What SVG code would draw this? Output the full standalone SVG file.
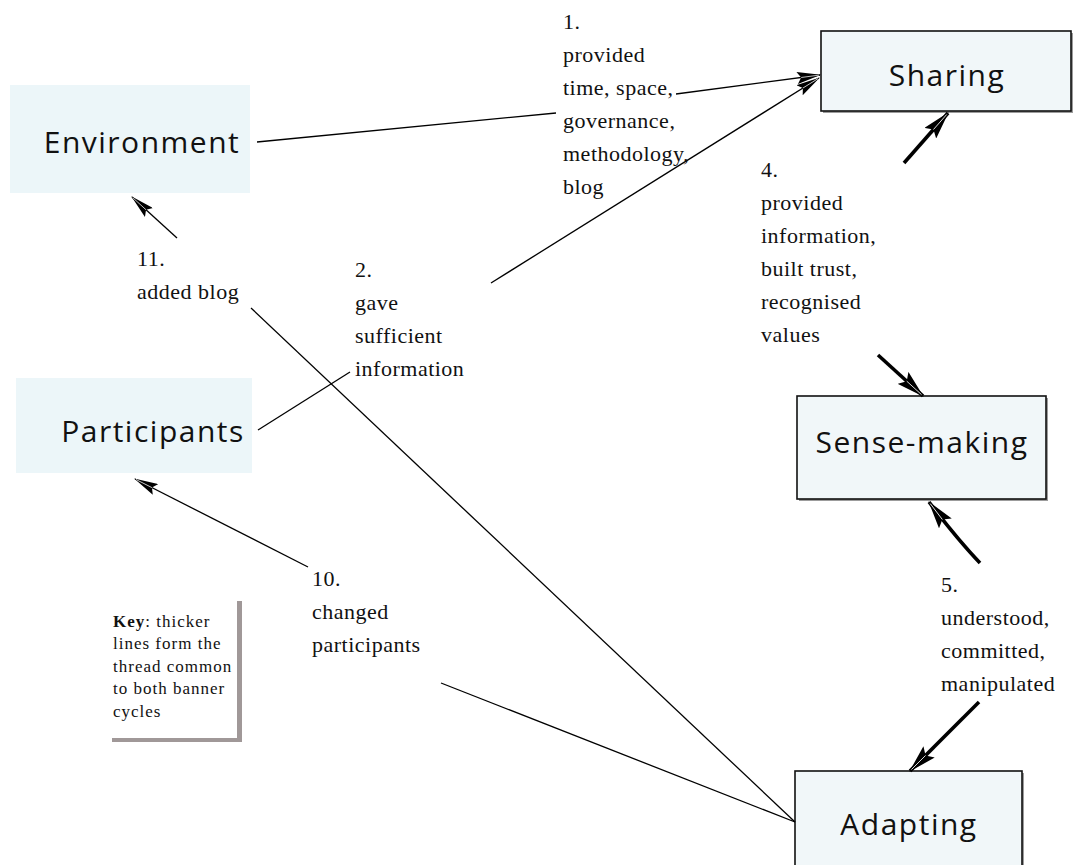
<svg xmlns="http://www.w3.org/2000/svg" width="1077" height="865" viewBox="0 0 1077 865">
  <style>
    .node-label { font-family: "Open Sans", "Noto Sans", "DejaVu Sans", sans-serif; font-size: 30px; letter-spacing: 1.5px; fill: #111; text-anchor: middle; }
    .soft { fill: #ecf6f9; stroke: none; }
    .boxed { fill: #f1f7f9; stroke: #111; stroke-width: 1.6; }
    .shadow { fill: #9c9c9c; }
    .edge-label { font-family: "Liberation Serif", "Times New Roman", serif; font-size: 22px; letter-spacing: 0.5px; fill: #111; }
    .key-text { font-family: "Liberation Serif", "Times New Roman", serif; font-size: 17px; letter-spacing: 1px; fill: #111; }
    .thin { stroke: #000; stroke-width: 1.3; fill: none; }
    .thick { stroke: #000; stroke-width: 3.6; fill: none; }
  </style>
  <defs>
    <marker id="head-thin" markerUnits="userSpaceOnUse" viewBox="0 0 24 12" markerWidth="24" markerHeight="12" refX="23" refY="6" orient="auto">
      <path d="M0,0 L24,6 L0,12 L4,6 Z" fill="#000"/>
      <path d="M4,6 L22,6" stroke="#fff" stroke-width="0.7"/>
    </marker>
    <marker id="head-thick" markerUnits="userSpaceOnUse" viewBox="0 0 28 16" markerWidth="28" markerHeight="16" refX="27" refY="8" orient="auto">
      <path d="M0,0 L28,8 L0,16 L5,8 Z" fill="#000"/>
      <path d="M5,8 L25,8" stroke="#fff" stroke-width="0.8"/>
    </marker>
  </defs>

  <rect width="1077" height="865" fill="#fff"/>

  <!-- nodes -->
  <g id="environment">
    <rect class="soft" x="10" y="85" width="240" height="108"/>
    <text class="node-label" x="142" y="153">Environment</text>
  </g>
  <g id="participants">
    <rect class="soft" x="16" y="378" width="236" height="95"/>
    <text class="node-label" x="153" y="442">Participants</text>
  </g>
  <g id="sharing">
    <rect class="shadow" x="823" y="33" width="250" height="80"/>
    <rect class="boxed" x="821" y="31" width="250" height="80"/>
    <text class="node-label" x="947" y="86">Sharing</text>
  </g>
  <g id="sense-making">
    <rect class="shadow" x="799" y="398" width="249" height="103"/>
    <rect class="boxed" x="797" y="396" width="249" height="103"/>
    <text class="node-label" x="922" y="453">Sense-making</text>
  </g>
  <g id="adapting">
    <rect class="shadow" x="797" y="773" width="227" height="100"/>
    <rect class="boxed" x="795" y="771" width="227" height="100"/>
    <text class="node-label" x="909" y="835">Adapting</text>
  </g>

  <!-- connectors -->
  <g id="connectors">
    <!-- 1 -->
    <line class="thin" x1="257" y1="142" x2="556" y2="113"/>
    <line class="thin" x1="676" y1="94" x2="820" y2="75" marker-end="url(#head-thin)"/>
    <!-- 2 -->
    <line class="thin" x1="258" y1="430" x2="350" y2="372"/>
    <line class="thin" x1="491" y1="283" x2="819" y2="78" marker-end="url(#head-thin)"/>
    <!-- 4 -->
    <line class="thick" x1="904" y1="163" x2="948" y2="113" marker-end="url(#head-thick)"/>
    <line class="thick" x1="878" y1="355" x2="923" y2="396" marker-end="url(#head-thick)"/>
    <!-- 5 -->
    <path class="thick" d="M980,563 Q958,540 929,502" marker-end="url(#head-thick)"/>
    <line class="thick" x1="979" y1="702" x2="910" y2="771" marker-end="url(#head-thick)"/>
    <!-- 10 -->
    <line class="thin" x1="795" y1="822" x2="441" y2="683"/>
    <line class="thin" x1="308" y1="567" x2="135" y2="479" marker-end="url(#head-thin)"/>
    <!-- 11 -->
    <line class="thin" x1="795" y1="822" x2="251" y2="308"/>
    <line class="thin" x1="177" y1="238" x2="132" y2="197" marker-end="url(#head-thin)"/>
  </g>

  <!-- edge labels -->
  <g id="labels">
    <text class="edge-label">
      <tspan x="563" y="29">1.</tspan>
      <tspan x="563" y="62">provided</tspan>
      <tspan x="563" y="95">time, space,</tspan>
      <tspan x="563" y="128">governance,</tspan>
      <tspan x="563" y="161">methodology,</tspan>
      <tspan x="563" y="194">blog</tspan>
    </text>
    <text class="edge-label">
      <tspan x="355" y="277">2.</tspan>
      <tspan x="355" y="310">gave</tspan>
      <tspan x="355" y="343">sufficient</tspan>
      <tspan x="355" y="376">information</tspan>
    </text>
    <text class="edge-label">
      <tspan x="761" y="177">4.</tspan>
      <tspan x="761" y="210">provided</tspan>
      <tspan x="761" y="243">information,</tspan>
      <tspan x="761" y="276">built trust,</tspan>
      <tspan x="761" y="309">recognised</tspan>
      <tspan x="761" y="342">values</tspan>
    </text>
    <text class="edge-label">
      <tspan x="941" y="592">5.</tspan>
      <tspan x="941" y="625">understood,</tspan>
      <tspan x="941" y="658">committed,</tspan>
      <tspan x="941" y="691">manipulated</tspan>
    </text>
    <text class="edge-label">
      <tspan x="312" y="586">10.</tspan>
      <tspan x="312" y="619">changed</tspan>
      <tspan x="312" y="652">participants</tspan>
    </text>
    <text class="edge-label">
      <tspan x="137" y="266">11.</tspan>
      <tspan x="137" y="299">added blog</tspan>
    </text>
  </g>

  <!-- key -->
  <g id="key">
    <rect x="112" y="601" width="130" height="141" fill="#a09898"/>
    <rect x="108" y="597" width="129" height="141" fill="#fff"/>
    <text class="key-text">
      <tspan x="113" y="627"><tspan font-weight="bold">Key</tspan>: thicker</tspan>
      <tspan x="113" y="649">lines form the</tspan>
      <tspan x="113" y="672">thread common</tspan>
      <tspan x="113" y="694">to both banner</tspan>
      <tspan x="113" y="717">cycles</tspan>
    </text>
  </g>
</svg>
